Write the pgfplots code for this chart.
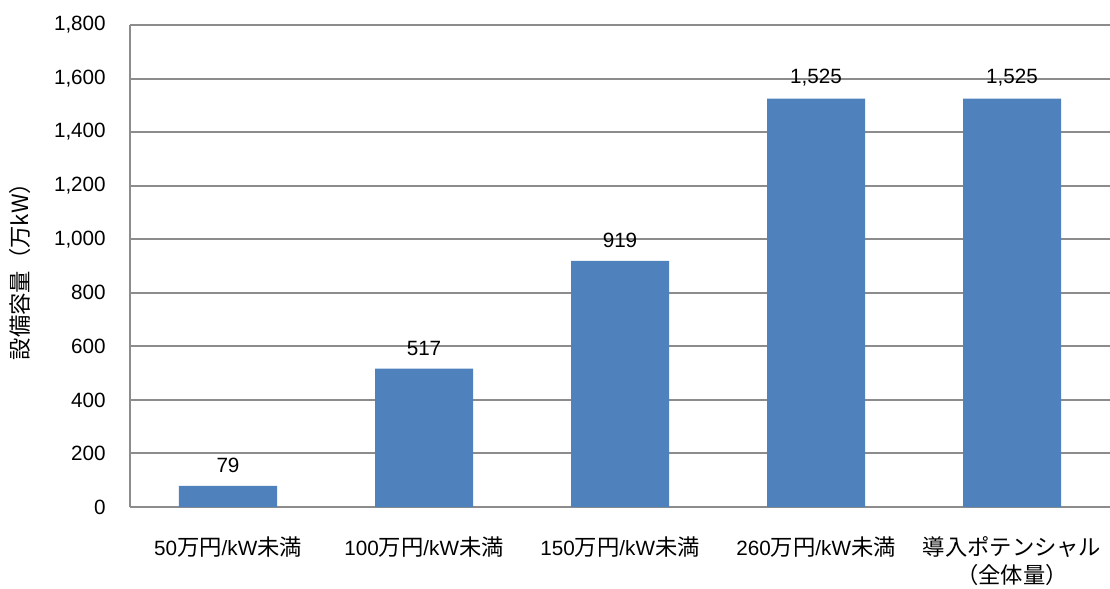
\documentclass[border=0pt]{standalone}
\usepackage{fontspec}
\setmainfont{Liberation Sans}
\newfontfamily\jp[Scale=1.08]{Noto Sans CJK JP}
\usepackage{pgfplots}
\pgfplotsset{compat=1.18}
\definecolor{barblue}{HTML}{4F81BD}
\definecolor{gridgray}{HTML}{8C8C8C}

\begin{document}
\begin{tikzpicture}
  \begin{axis}[
    name=ax,
    scale only axis,
    width=735pt, height=361.5pt,
    xmin=-0.5, xmax=4.5,
    ymin=0, ymax=1800,
    ytick={0,200,...,1800},
    xtick={0,1,2,3,4},
    xticklabels={
      50{\jp 万円}/kW{\jp 未満},
      100{\jp 万円}/kW{\jp 未満},
      150{\jp 万円}/kW{\jp 未満},
      260{\jp 万円}/kW{\jp 未満},
      {{\jp 導入ポテンシャル}\\{\jp （全体量）}}
    },
    axis x line=bottom, axis y line=left,
    axis line style={-, gridgray, line width=2.2pt},
    ymajorgrids, grid style={gridgray, line width=1.5pt},
    major tick length=0pt,
    tick label style={font=\fontsize{15.5}{21}\selectfont},
    yticklabel style={anchor=east, inner sep=0pt, xshift=-18pt},
    xticklabel style={anchor=north, inner sep=0pt, yshift=-22pt, align=center},
    /pgf/number format/.cd, 1000 sep={,}, assume math mode=true,
    /pgfplots/.cd,
    ylabel={\jp 設備容量（万kW）},
    ylabel style={at={(axis description cs:-0.1122,0.5)}, anchor=center,
      font=\fontsize{15.5}{17}\selectfont},
    nodes near coords,
    nodes near coords style={font=\fontsize{15.5}{17}\selectfont, anchor=south,
      inner sep=0pt, yshift=9.5pt,
      /pgf/number format/.cd, 1000 sep={,}, assume math mode=true},
    clip=false,
  ]
    \addplot[ybar, bar width=73.5pt, fill=barblue, draw=none]
      coordinates {(0,79) (1,517) (2,919) (3,1525) (4,1525)};
  \end{axis}
  \pgfresetboundingbox
  \path[use as bounding box] ([xshift=-97.5pt,yshift=-60.75pt]ax.south west)
    rectangle ([yshift=18.75pt]ax.north east);
\end{tikzpicture}
\end{document}
